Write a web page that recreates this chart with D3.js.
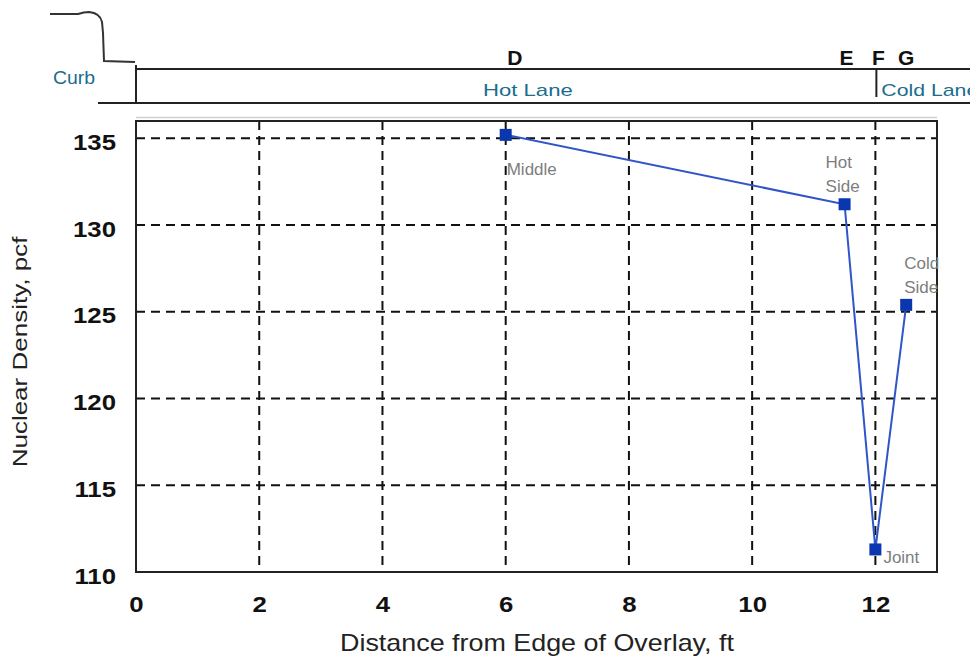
<!DOCTYPE html>
<html>
<head>
<meta charset="utf-8">
<script src="https://cdn.jsdelivr.net/npm/d3@7"></script>
<style>
  body { margin: 0; background: #fff; }
  svg { display: block; font-family: Arial, "Liberation Sans", sans-serif; }
</style>
</head>
<body>
<svg id="chart" width="970" height="661"></svg>
<script>
// Density readings across the joint
const distances = [6, 11.5, 12, 12.5];
const densities = [135.2, 131.2, 111.3, 125.4];
const pointLabels = [['Middle'], ['Hot', 'Side'], ['Joint'], ['Cold', 'Side']];

const xTicks = [0, 2, 4, 6, 8, 10, 12];
const yTicks = [110, 115, 120, 125, 130, 135];

// Station letters over the schematic
const stationNames = ['D', 'E', 'F', 'G'];
const stationPos = [6.15, 11.53, 12.05, 12.5];

const margin = { top: 121, right: 33, bottom: 89, left: 136 };
const svg = d3.select('#chart');
const width = 970 - margin.left - margin.right;
const height = 661 - margin.top - margin.bottom;

const x = d3.scaleLinear().domain([0, 13]).range([0, width]);
const y = d3.scaleLinear().domain([110, 136]).range([height, 0]);

// the original figure's text is a bit wider than Arial; stretch it horizontally
function stretch(sel, k) {
    sel.each(function () {
        const len = this.getComputedTextLength();
        d3.select(this).attr('textLength', len * k).attr('lengthAdjust', 'spacingAndGlyphs');
    });
}

// ---- lane schematic on top ----
const lanes = svg.append('g');
const ink = '#222';
lanes.append('path')
    .attr('d', 'M50,14 L78,14 Q84,12 89,12 Q100,13 102,22 L103,33 L104,61 L135,62')
    .attr('fill', 'none').attr('stroke', '#333').attr('stroke-width', 2);
lanes.append('line').attr('x1', margin.left).attr('x2', 970).attr('y1', 69).attr('y2', 69)
    .attr('stroke', ink).attr('stroke-width', 2);
lanes.append('line').attr('x1', 98).attr('x2', 970).attr('y1', 103).attr('y2', 103)
    .attr('stroke', ink).attr('stroke-width', 2);
lanes.append('line').attr('x1', margin.left).attr('x2', margin.left).attr('y1', 65).attr('y2', 103)
    .attr('stroke', ink).attr('stroke-width', 2);
lanes.append('line').attr('x1', margin.left + x(12) + 1).attr('x2', margin.left + x(12) + 1).attr('y1', 70).attr('y2', 97)
    .attr('stroke', ink).attr('stroke-width', 2);
lanes.append('line').attr('x1', margin.left).attr('x2', margin.left + width).attr('y1', 117.5).attr('y2', 117.5)
    .attr('stroke', '#cfcfcf').attr('stroke-width', 1.5);

const laneColor = '#1b6d8c';
stretch(lanes.append('text').attr('x', 53).attr('y', 84).attr('fill', laneColor)
    .style('font-size', '18px').text('Curb'), 1.08);
stretch(lanes.append('text').attr('x', margin.left + x(6.36)).attr('y', 96).attr('fill', laneColor)
    .attr('text-anchor', 'middle').style('font-size', '17px').text('Hot Lane'), 1.3);
stretch(lanes.append('text').attr('x', margin.left + x(12) + 6).attr('y', 96).attr('fill', laneColor)
    .style('font-size', '17px').text('Cold Lane'), 1.25);

stationNames.forEach((s, i) => {
    lanes.append('text')
        .attr('x', margin.left + x(stationPos[i]))
        .attr('y', 65)
        .attr('text-anchor', 'middle')
        .style('font-size', '21px').style('font-weight', 'bold')
        .attr('fill', '#111')
        .text(s);
});

// ---- chart ----
const g = svg.append('g').attr('transform', `translate(${margin.left},${margin.top})`);

// grid
g.selectAll('.hgrid').data(yTicks).join('line')
    .attr('x1', 0).attr('x2', width)
    .attr('y1', d => y(d)).attr('y2', d => y(d))
    .attr('stroke', '#111').attr('stroke-width', 2).attr('stroke-dasharray', '9,6');
g.selectAll('.vgrid').data(xTicks).join('line')
    .attr('x1', d => x(d)).attr('x2', d => x(d))
    .attr('y1', 0).attr('y2', height)
    .attr('stroke', '#111').attr('stroke-width', 2).attr('stroke-dasharray', '9,6');

// frame
g.append('rect').attr('x', 0).attr('y', 0).attr('width', width).attr('height', height)
    .attr('fill', 'none').attr('stroke', '#222').attr('stroke-width', 2);

// axes
const xAxis = g.append('g').attr('transform', `translate(0,${height})`)
    .call(d3.axisBottom(x).tickValues(xTicks).tickSize(0).tickPadding(24).tickFormat(d3.format('d')));
const yAxis = g.append('g')
    .call(d3.axisLeft(y).tickValues(yTicks).tickSize(0).tickPadding(20).tickFormat(d3.format('d')));
[xAxis, yAxis].forEach(a => {
    a.select('.domain').remove();
    a.selectAll('text').style('font-size', '22px').style('font-weight', 'bold')
        .style('font-family', 'Arial, "Liberation Sans", sans-serif').attr('fill', '#111');
    stretch(a.selectAll('text'), 1.17);
});
yAxis.selectAll('text').attr('dy', '0.5em');

const xTitle = svg.append('text')
    .attr('x', 340).attr('y', 651)
    .style('font-size', '24px').attr('fill', '#222')
    .text('Distance from Edge of Overlay, ft');
stretch(xTitle, 1.12);
const yTitle = svg.append('text')
    .attr('transform', 'translate(27,352) rotate(-90)')
    .attr('text-anchor', 'middle').style('font-size', '20px').attr('fill', '#222')
    .text('Nuclear Density, pcf');
stretch(yTitle, 1.3);

// series
const pts = distances.map((d, i) => ({ x: d, y: densities[i], label: pointLabels[i] }));
g.append('path').datum(pts)
    .attr('d', d3.line().x(d => x(d.x)).y(d => y(d.y)))
    .attr('fill', 'none').attr('stroke', '#2f55c8').attr('stroke-width', 2);
g.selectAll('.pt').data(pts).join('rect')
    .attr('x', d => x(d.x) - 6).attr('y', d => y(d.y) - 6)
    .attr('width', 12).attr('height', 12)
    .attr('fill', '#0a36b0');

// point labels
const labelOffsets = [[1, 40], [-19, -36], [8, 14], [-2, -36]];
pts.forEach((p, i) => {
    const lx = x(p.x) + labelOffsets[i][0];
    const t = g.append('text')
        .attr('x', lx)
        .attr('y', y(p.y) + labelOffsets[i][1])
        .style('font-size', '17px').attr('fill', '#7d7d7d');
    p.label.forEach((line, j) => {
        t.append('tspan').attr('x', lx).attr('dy', j === 0 ? 0 : 24).text(line);
    });
});
</script>
</body>
</html>
